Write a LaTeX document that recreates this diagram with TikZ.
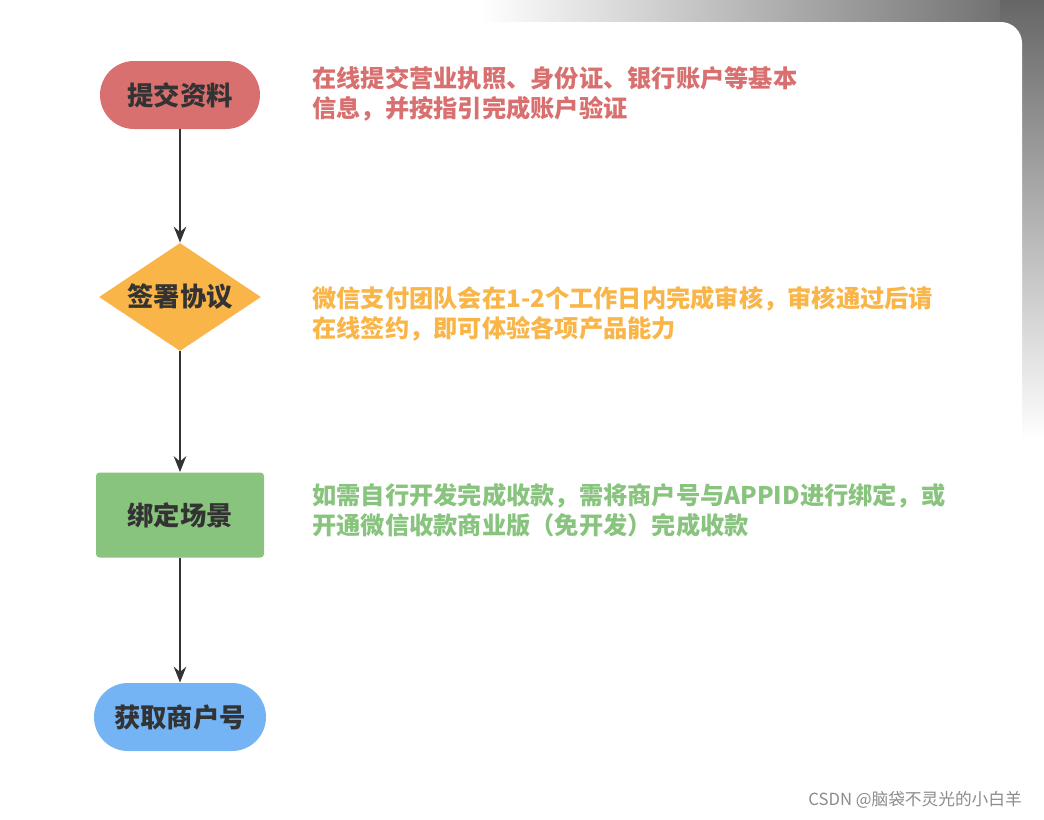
\documentclass[tikz,border=0pt]{standalone}
\usepackage{fontspec}
\setmainfont{Noto Sans CJK SC}
\usetikzlibrary{shapes.geometric, arrows.meta, positioning}
\definecolor{stepred}{HTML}{D97070}
\definecolor{steporange}{HTML}{F9B548}
\definecolor{stepgreen}{HTML}{88C47E}
\definecolor{stepblue}{HTML}{74B4F5}
\definecolor{darktext}{HTML}{333333}
\tikzset{
  stadium/.style = {draw=none, rounded corners=34*0.02cm, minimum width=160*0.02cm, minimum height=68*0.02cm, font=\fontsize{15}{16}\selectfont\bfseries, text=darktext},
  rhomb/.style = {diamond, draw=none, aspect=1.5, minimum width=162*0.02cm, minimum height=108*0.02cm, inner sep=0pt, font=\fontsize{15}{16}\selectfont\bfseries, text=darktext},
  box/.style = {draw=none, rounded corners=2pt, minimum width=168*0.02cm, minimum height=85*0.02cm, font=\fontsize{15}{16}\selectfont\bfseries, text=darktext},
  note/.style = {anchor=north west, align=left, inner sep=0pt, font=\fontsize{13.8}{17}\selectfont\bfseries},
  flow/.style = {-{Stealth[length=9pt,width=7pt]}, line width=1.5pt, draw=darktext}
}
\begin{document}
\begin{tikzpicture}[x=0.02cm, y=-0.02cm]
\useasboundingbox (0,0) rectangle (1044,819);
% shadow behind the panel
\shade[left color=white, right color=black!60] (480,0) rectangle (1044,40);
\shade[top color=black!60, bottom color=white] (1000,0) rectangle (1044,440);
\fill[white, rounded corners=12pt] (0,22) rectangle (1022,819);
% steps
\node[stadium, fill=stepred] (submit) at (180,95) {提交资料};
\node[rhomb, fill=steporange] (sign) at (180,297) {签署协议};
\node[box, fill=stepgreen] (bind) at (180,515) {绑定场景};
\node[stadium, fill=stepblue, minimum width=172*0.02cm] (merchant) at (180,717) {获取商户号};
\draw[flow] (submit) -- (sign);
\draw[flow] (sign) -- (bind);
\draw[flow] (bind) -- (merchant);
% notes
\node[note, text=stepred] (submitnote) at (312,66) {在线提交营业执照、身份证、银行账户等基本\\信息，并按指引完成账户验证};
\node[note, text=steporange] (signnote) at (312,286) {微信支付团队会在1-2个工作日内完成审核，审核通过后请\\在线签约，即可体验各项产品能力};
\node[note, text=stepgreen] (bindnote) at (312,483) {如需自行开发完成收款，需将商户号与APPID进行绑定，或\\开通微信收款商业版（免开发）完成收款};
\node[anchor=east, text=black!45, font=\fontsize{9.5}{11}\selectfont] (mark) at (1028,800) {CSDN @脑袋不灵光的小白羊};
\end{tikzpicture}
\end{document}
